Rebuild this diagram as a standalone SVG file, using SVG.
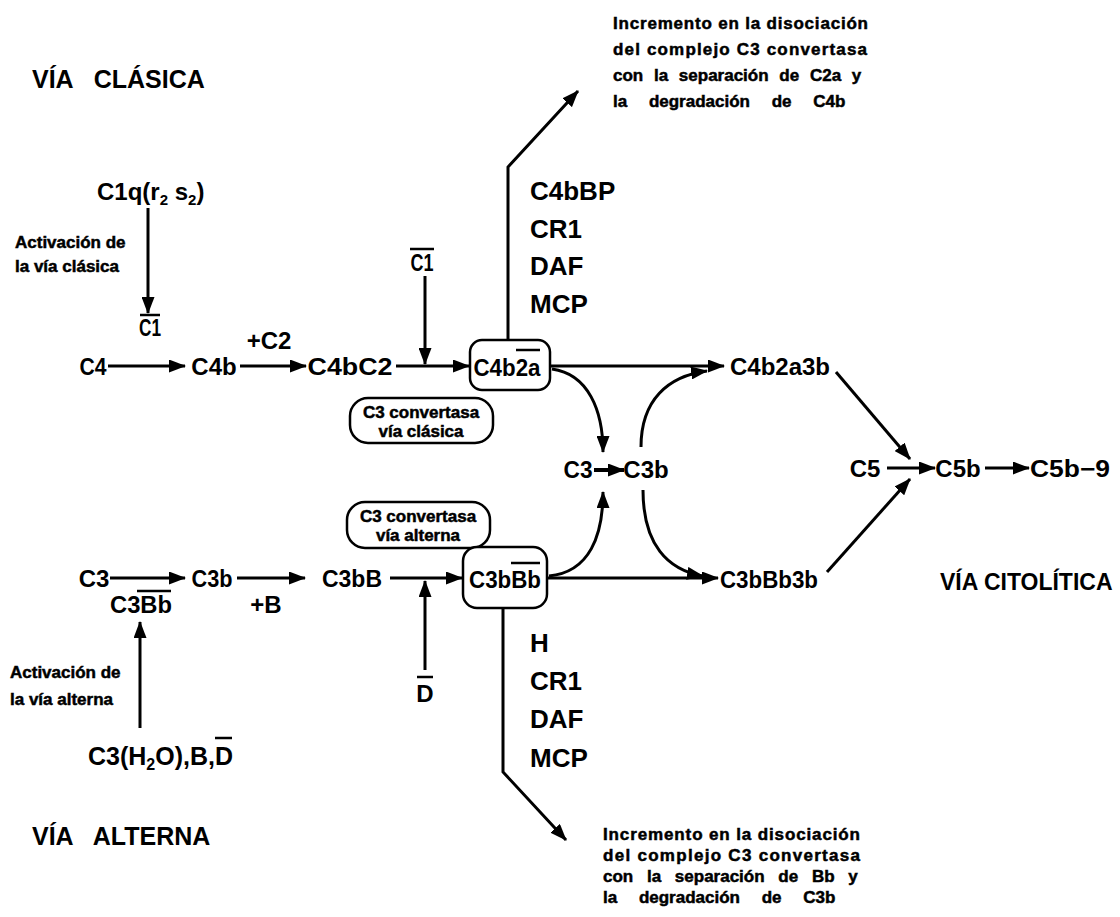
<svg xmlns="http://www.w3.org/2000/svg" width="1120" height="917" viewBox="0 0 1120 917">
<style>
text{font-family:"Liberation Sans",Arial,sans-serif;font-weight:bold;fill:#000}
.lbl{font-size:24px;text-anchor:middle}
.big{font-size:26px}
.sm{font-size:17px;stroke:#000;stroke-width:0.5}
.head{font-size:25px}
.cn{fill:none;stroke:#000;stroke-width:3}
.ol{stroke:#000;stroke-width:2.5}
.box{fill:#fff;stroke:#000;stroke-width:2.5}
</style>
<defs>
<marker id="ah" markerWidth="17" markerHeight="13" refX="16" refY="6.5" orient="auto" markerUnits="userSpaceOnUse"><path d="M0,0 L17,6.5 L0,13 z" fill="#000"/></marker>
</defs>
<rect width="1120" height="917" fill="#fff"/>
<g id="connectors" class="cn" marker-end="url(#ah)">
<path d="M108,366 H185"/>
<path d="M148,208 V313"/>
<path d="M240,366 H306"/>
<path d="M396,366 H469"/>
<path d="M425,276 V364"/>
<path d="M550,366 H724"/>
<path d="M508,340 V167 L578,91"/>
<path d="M552,369 C588,374 603,410 603,452"/>
<path d="M594,470 H624" style="stroke-width:4"/>
<path d="M641,447 C641,400 668,376 707,371"/>
<path d="M836,372 L910,459"/>
<path d="M827,572 L910,479"/>
<path d="M887,468 H935"/>
<path d="M985,468 H1029"/>
<path d="M110,578 H185"/>
<path d="M237,578 H305"/>
<path d="M390,578 H462"/>
<path d="M425,670 V581"/>
<path d="M548,578 H718"/>
<path d="M549,576 C590,572 603,535 603,492"/>
<path d="M643,490 C643,545 668,570 703,576"/>
<path d="M503,609 V772 L566,840"/>
<path d="M140,728 V622"/>
</g>
<g id="titles">
<text class="head" x="32" y="88" word-spacing="14">VÍA CLÁSICA</text>
<text class="head" x="32" y="845" word-spacing="14">VÍA ALTERNA</text>
<text x="940" y="590" font-size="23">VÍA CITOLÍTICA</text>
</g>
<g id="note-top" class="sm">
<text x="613" y="29" textLength="255" lengthAdjust="spacing">Incremento en la disociación</text>
<text x="613" y="55" textLength="254" lengthAdjust="spacing">del complejo C3 convertasa</text>
<text x="613" y="81" word-spacing="6">con la separación de C2a y</text>
<text x="613" y="107" word-spacing="17">la degradación de C4b</text>
</g>
<g id="note-bottom" class="sm">
<text x="603" y="840" textLength="257" lengthAdjust="spacing">Incremento en la disociación</text>
<text x="603" y="861" textLength="257" lengthAdjust="spacing">del complejo C3 convertasa</text>
<text x="603" y="882" word-spacing="9">con la separación de Bb y</text>
<text x="603" y="903" word-spacing="17">la degradación de C3b</text>
</g>
<g id="c1q"><text x="97" y="200" font-size="24">C1q(r<tspan font-size="15" dy="5">2</tspan><tspan dy="-5"> s</tspan><tspan font-size="15" dy="5">2</tspan><tspan dy="-5">)</tspan></text></g>
<g id="act-clasica" class="sm"><text x="15" y="248">Activación de</text><text x="15" y="272">la vía clásica</text></g>
<g id="c1bar-left"><text class="lbl" x="150" y="336" textLength="22" lengthAdjust="spacingAndGlyphs">C1</text><line class="ol" x1="140" y1="315" x2="160" y2="315"/></g>
<g id="c1bar-top"><text class="lbl" x="422" y="271" textLength="23" lengthAdjust="spacingAndGlyphs">C1</text><line class="ol" x1="410" y1="249" x2="434" y2="249"/></g>
<g id="c4"><text class="lbl" x="93" y="375" textLength="27" lengthAdjust="spacingAndGlyphs">C4</text></g>
<g id="c4b"><text class="lbl" x="214" y="375">C4b</text></g>
<g id="plusC2"><text class="lbl" x="269" y="349">+C2</text></g>
<g id="c4bc2"><text class="lbl" x="350" y="375" textLength="85" lengthAdjust="spacingAndGlyphs">C4bC2</text></g>
<g id="c4b2a"><rect class="box" x="470" y="340" width="80" height="50" rx="12"/><text class="lbl" x="507" y="376" textLength="67" lengthAdjust="spacingAndGlyphs">C4b2a</text><line class="ol" x1="516" y1="350" x2="540" y2="350"/></g>
<g id="conv-clasica"><rect class="box" x="350" y="398" width="143" height="45" rx="18"/><text class="sm" x="421" y="418" text-anchor="middle">C3 convertasa</text><text class="sm" x="421" y="437" text-anchor="middle">vía clásica</text></g>
<g id="inhib-clasica" class="big"><text x="530" y="200">C4bBP</text><text x="530" y="238">CR1</text><text x="530" y="275">DAF</text><text x="530" y="313">MCP</text></g>
<g id="c4b2a3b"><text class="lbl" x="780" y="375">C4b2a3b</text></g>
<g id="c3c3b"><text class="lbl" x="578" y="478" textLength="29" lengthAdjust="spacingAndGlyphs">C3</text><text class="lbl" x="646" y="478">C3b</text></g>
<g id="c5"><text class="lbl" x="865" y="477">C5</text></g>
<g id="c5b"><text class="lbl" x="958" y="477">C5b</text></g>
<g id="c5b9"><text class="lbl" x="1070" y="477" textLength="80" lengthAdjust="spacingAndGlyphs">C5b−9</text></g>
<g id="c3"><text class="lbl" x="94" y="587">C3</text></g>
<g id="c3bbb-enz"><text class="lbl" x="141" y="613" textLength="62" lengthAdjust="spacingAndGlyphs">C3Bb</text><line class="ol" x1="137" y1="591" x2="171" y2="591"/></g>
<g id="c3b"><text class="lbl" x="212" y="587" textLength="41" lengthAdjust="spacingAndGlyphs">C3b</text></g>
<g id="plusB"><text class="lbl" x="266" y="613">+B</text></g>
<g id="c3bB"><text class="lbl" x="352" y="587" textLength="60" lengthAdjust="spacingAndGlyphs">C3bB</text></g>
<g id="conv-alterna"><rect class="box" x="347" y="502" width="143" height="46" rx="18"/><text class="sm" x="418" y="522" text-anchor="middle">C3 convertasa</text><text class="sm" x="418" y="541" text-anchor="middle">vía alterna</text></g>
<g id="c3bBb"><rect class="box" x="463" y="547" width="84" height="61" rx="14"/><text class="lbl" x="505" y="588" textLength="72" lengthAdjust="spacingAndGlyphs">C3bBb</text><line class="ol" x1="511" y1="563" x2="540" y2="563"/></g>
<g id="c3bbb3b"><text class="lbl" x="769" y="588" textLength="98" lengthAdjust="spacingAndGlyphs">C3bBb3b</text></g>
<g id="dbar"><text class="lbl" x="425" y="702">D</text><line class="ol" x1="417" y1="677" x2="433" y2="677"/></g>
<g id="inhib-alterna" class="big"><text x="530" y="652">H</text><text x="530" y="690">CR1</text><text x="530" y="728">DAF</text><text x="530" y="767">MCP</text></g>
<g id="act-alterna" class="sm"><text x="10" y="678">Activación de</text><text x="10" y="705">la vía alterna</text></g>
<g id="c3h2o"><text x="88" y="765" font-size="25">C3(H<tspan font-size="16" dy="5">2</tspan><tspan dy="-5">O),B,D</tspan></text><line class="ol" x1="215" y1="738" x2="232" y2="738"/></g>
</svg>
